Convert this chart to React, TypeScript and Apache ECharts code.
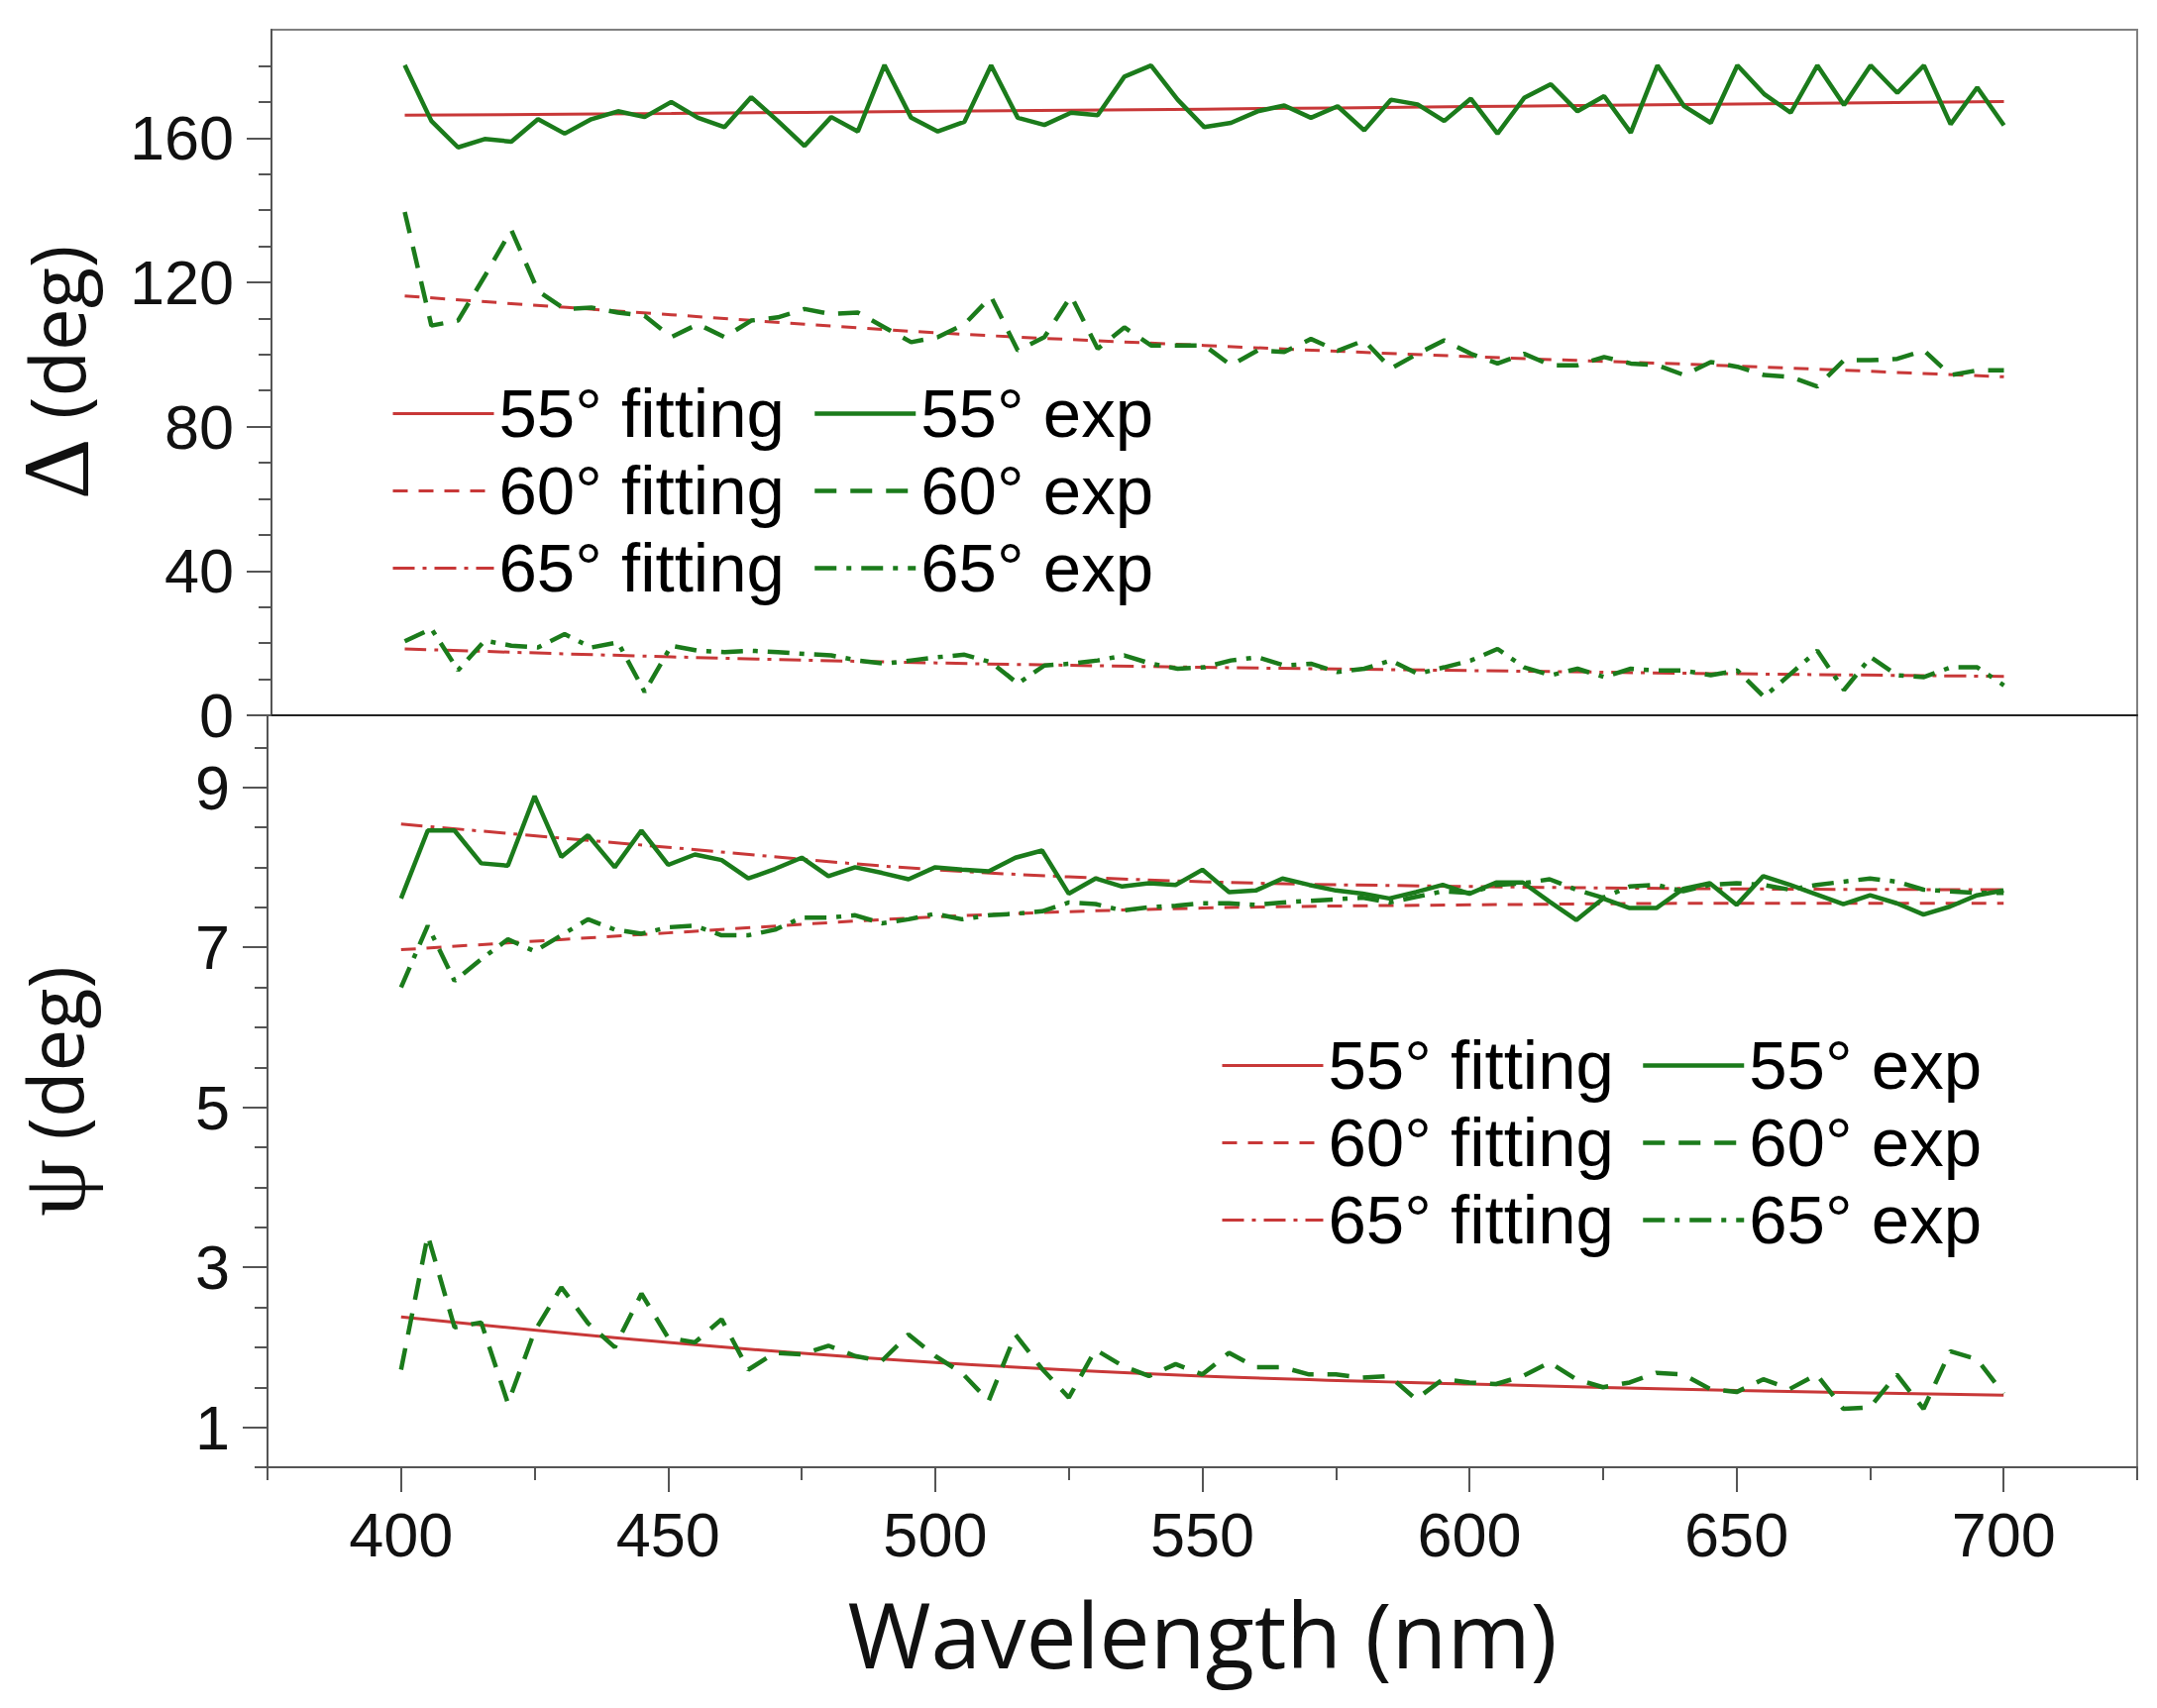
import React, { useEffect, useRef } from "react";
import * as echarts from "echarts";

// wavelength (nm) of experimental points
const WL = [400,405,410,415,420,425,430,435,440,445,450,455,460,465,470,475,480,485,490,495,500,505,510,515,520,525,530,535,540,545,550,555,560,565,570,575,580,585,590,595,600,605,610,615,620,625,630,635,640,645,650,655,660,665,670,675,680,685,690,695,700];
// wavelength of fitted curve samples
const FIT_WL = [400,450,500,550,600,650,700];

// Delta (deg) panel
const DELTA_55_EXP = [180.2,164.7,157.4,159.7,159.0,165.2,161.2,165.2,167.4,165.8,170.0,165.6,163.0,171.3,164.7,157.8,165.8,161.8,180.2,165.6,161.8,164.5,180.1,165.6,163.6,167.0,166.3,177.0,180.1,170.6,163.0,164.2,167.4,169.0,165.6,168.8,162.1,170.6,169.3,164.7,170.9,161.2,171.1,174.9,167.4,171.6,161.5,180.1,168.8,164.2,180.1,172.2,167.0,180.1,169.1,180.1,172.5,180.1,163.8,174.0,163.5];
const DELTA_60_EXP = [139.5,108.0,109.4,121.7,134.5,117.6,112.6,113.0,111.6,110.7,104.8,108.4,104.8,109.4,110.3,112.6,111.2,111.6,107.5,103.4,104.8,108.4,116.0,101.1,104.8,116.2,101.6,107.5,102.5,102.5,102.5,97.0,101.1,100.7,104.3,101.0,103.9,96.1,100.2,103.9,100.2,97.5,100.2,97.0,97.0,99.3,97.5,97.0,94.3,97.9,96.6,94.3,93.8,91.1,98.4,98.4,98.8,101.1,94.3,95.6,95.6];
const DELTA_65_EXP = [20.5,24.0,12.5,20.7,19.3,18.8,22.5,18.8,20.2,6.5,19.3,17.9,17.5,17.9,17.5,17.0,16.6,15.2,14.3,15.2,16.1,16.8,14.7,8.8,13.8,14.3,15.2,16.6,14.3,12.9,13.3,15.2,16.1,13.8,14.3,12.0,12.9,15.2,11.5,13.3,15.2,18.4,13.3,11.1,12.9,10.6,12.9,12.4,12.4,11.1,12.4,5.1,11.5,17.9,7.0,16.1,11.1,10.6,13.3,13.3,8.3];
const DELTA_55_FIT = [166.3,166.8,167.4,168.0,168.7,169.4,170.1];
const DELTA_60_FIT = [116.2,111.0,106.0,102.5,99.4,96.8,93.8];
const DELTA_65_FIT = [18.4,16.2,14.5,13.3,12.4,11.5,10.8];

// Psi (deg) panel
const PSI_55_EXP = [7.61,8.46,8.46,8.05,8.02,8.89,8.13,8.40,8.00,8.46,8.03,8.16,8.09,7.86,7.98,8.12,7.89,8.00,7.93,7.85,8.00,7.97,7.95,8.12,8.21,7.67,7.86,7.76,7.80,7.78,7.97,7.69,7.71,7.86,7.78,7.71,7.67,7.61,7.69,7.78,7.67,7.81,7.81,7.57,7.34,7.61,7.49,7.49,7.73,7.80,7.53,7.89,7.78,7.66,7.54,7.65,7.55,7.41,7.51,7.65,7.71];
const PSI_60_EXP = [1.72,3.40,2.25,2.31,1.30,2.20,2.75,2.30,2.00,2.67,2.12,2.06,2.35,1.72,1.93,1.91,2.02,1.89,1.83,2.16,1.89,1.68,1.33,2.16,1.73,1.37,1.97,1.77,1.64,1.79,1.66,1.93,1.75,1.75,1.66,1.66,1.62,1.64,1.35,1.60,1.56,1.54,1.64,1.81,1.60,1.50,1.56,1.68,1.66,1.48,1.44,1.60,1.48,1.66,1.23,1.25,1.66,1.23,1.95,1.85,1.42];
const PSI_65_EXP = [6.50,7.27,6.58,6.85,7.10,6.95,7.15,7.35,7.22,7.17,7.25,7.27,7.15,7.15,7.22,7.37,7.37,7.40,7.30,7.35,7.42,7.35,7.40,7.42,7.45,7.56,7.54,7.46,7.50,7.52,7.55,7.55,7.53,7.56,7.58,7.60,7.62,7.56,7.63,7.70,7.68,7.78,7.80,7.85,7.72,7.62,7.76,7.78,7.70,7.78,7.80,7.78,7.72,7.78,7.82,7.86,7.82,7.72,7.70,7.68,7.68];
const PSI_55_FIT = [2.38,2.06,1.81,1.64,1.54,1.46,1.40];
const PSI_60_FIT = [6.97,7.18,7.38,7.49,7.53,7.55,7.55];
const PSI_65_FIT = [8.54,8.25,7.97,7.82,7.76,7.73,7.72];

// axis ticks
const X_MAJOR = [400,450,500,550,600,650,700];
const X_MINOR = [375,425,475,525,575,625,675,725];
const DELTA_MAJOR = [0,40,80,120,160];
const DELTA_MINOR = [10,20,30,50,60,70,90,100,110,130,140,150,170,180];
const PSI_MAJOR = [1,3,5,7,9];
const PSI_MINOR = [0.5,1.5,2,2.5,3.5,4,4.5,5.5,6,6.5,7.5,8,8.5,9.5];

const FIT_NAMES = ["55° fitting","60° fitting","65° fitting"];
const EXP_NAMES = ["55° exp","60° exp","65° exp"];

const RED = "#c83838";
const GREEN = "#1b7b1b";
const TITLE_FONT = "Open Sans";
const TICK_FONT = "Liberation Sans";
const LEGEND_FONT = "Liberation Sans";

const pairs = (xs: number[], ys: number[]) => xs.map((x, i) => [x, ys[i]]);

export default function App() {
  const ref = useRef<HTMLDivElement>(null);
  useEffect(() => {
    if (!ref.current) return;
    const chart = echarts.init(ref.current, null, { renderer: "svg" });

    const gridL = 270, gridR = 20;
    const topT = 30, topH = 692;
    const botT = 722, botH = 759;

    const tickStyle = { color: "#555", width: 2 };
    const labelStyle = { fontFamily: TICK_FONT, fontSize: 63, color: "#111" };

    const yMajor = (gridIndex: number, min: number, max: number, major: number[], glyph: string, glyphSize: number) => ({
      type: "value", gridIndex, min, max, position: "left", offset: 0,
      axisLine: { show: true, lineStyle: { color: "#555", width: 2 } },
      axisTick: { show: true, customValues: major, length: 25, lineStyle: tickStyle },
      axisLabel: { show: true, customValues: major, margin: 38, ...labelStyle, lineHeight: 50, formatter: (v: number) => String(v) },
      splitLine: { show: false },
      name: `{g|${glyph}} (deg)`,
      nameLocation: "middle",
      nameGap: 170,
      nameTextStyle: {
        fontFamily: TITLE_FONT, fontSize: 76, color: "#111",
        rich: { g: { fontFamily: "Liberation Serif", fontSize: glyphSize, color: "#111" } },
      },
    });
    const yMinor = (gridIndex: number, min: number, max: number, minor: number[]) => ({
      type: "value", gridIndex, min, max, position: "left", offset: 0,
      axisLine: { show: false },
      axisTick: { show: true, customValues: minor, length: 13, lineStyle: tickStyle },
      axisLabel: { show: false },
      splitLine: { show: false },
    });

    const lineSeries = (name: string, xi: number, yi: number, xs: number[], ys: number[], color: string, width: number, type: any, smooth: boolean) => ({
      type: "line", name, xAxisIndex: xi, yAxisIndex: yi,
      data: pairs(xs, ys), showSymbol: false, symbol: "none",
      smooth: smooth ? 0.35 : false,
      lineStyle: { color, width, type },
      itemStyle: { color },
      silent: true,
    });

    const dashFit = [15, 11];
    const dotFit = [22, 8, 4, 8];
    const dashExp = [22, 14];
    const dotExp = [22, 10, 5, 10];
    const RW = 3, GW = 4.5;
    const FIT_TYPES: any[] = ["solid", dashFit, dotFit];
    const EXP_TYPES: any[] = ["solid", dashExp, dotExp];

    const legendBase = {
      orient: "vertical", itemWidth: 102, itemHeight: 40, itemGap: 9, padding: 0,
      selectedMode: false,
      itemStyle: { opacity: 0 },
      textStyle: { fontFamily: LEGEND_FONT, fontSize: 69, color: "#000" },
    };
    const fitLegendData = FIT_NAMES.map((name, i) => ({ name, lineStyle: { color: RED, width: RW, type: FIT_TYPES[i] } }));
    const expLegendData = EXP_NAMES.map((name, i) => ({ name, lineStyle: { color: GREEN, width: GW, type: EXP_TYPES[i] } }));

    const option: any = {
      animation: false,
      backgroundColor: "#fff",
      grid: [
        { left: gridL, right: gridR, top: topT, height: topH, show: true, borderColor: "#808080", borderWidth: 2, containLabel: false },
        { left: gridL, right: gridR, top: botT, height: botH, show: true, borderColor: "#808080", borderWidth: 2, containLabel: false },
      ],
      xAxis: [
        {
          type: "value", gridIndex: 0, min: 375, max: 725, position: "bottom",
          axisLine: { show: true, lineStyle: { color: "#222", width: 2 } },
          axisTick: { show: false }, axisLabel: { show: false }, splitLine: { show: false },
        },
        {
          type: "value", gridIndex: 1, min: 375, max: 725, position: "bottom", offset: 0,
          axisLine: { show: true, lineStyle: { color: "#555", width: 2 } },
          axisTick: { show: true, customValues: X_MAJOR, length: 25, lineStyle: tickStyle },
          axisLabel: { show: true, customValues: X_MAJOR, margin: 36, ...labelStyle, formatter: (v: number) => String(v) },
          splitLine: { show: false },
          name: "Wavelength (nm)", nameLocation: "middle", nameGap: 122,
          nameTextStyle: { fontFamily: TITLE_FONT, fontSize: 91, color: "#111" },
        },
        {
          type: "value", gridIndex: 1, min: 375, max: 725, position: "bottom", offset: 0,
          axisLine: { show: false },
          axisTick: { show: true, customValues: X_MINOR, length: 13, lineStyle: tickStyle },
          axisLabel: { show: false }, splitLine: { show: false },
        },
      ],
      yAxis: [
        yMajor(0, 0, 190, DELTA_MAJOR, "Δ", 96),
        yMinor(0, 0, 190, DELTA_MINOR),
        yMajor(1, 0.5, 9.9, PSI_MAJOR, "ψ", 92),
        yMinor(1, 0.5, 9.9, PSI_MINOR),
      ],
      legend: [
        { ...legendBase, left: 395, top: 383, data: fitLegendData },
        { ...legendBase, left: 820, top: 383, data: expLegendData },
        { ...legendBase, left: 1232, top: 1041, data: fitLegendData },
        { ...legendBase, left: 1656, top: 1041, data: expLegendData },
      ],
      series: [
        lineSeries("55° fitting", 0, 0, FIT_WL, DELTA_55_FIT, RED, RW, "solid", true),
        lineSeries("60° fitting", 0, 0, FIT_WL, DELTA_60_FIT, RED, RW, dashFit, true),
        lineSeries("65° fitting", 0, 0, FIT_WL, DELTA_65_FIT, RED, RW, dotFit, true),
        lineSeries("55° exp", 0, 0, WL, DELTA_55_EXP, GREEN, GW, "solid", false),
        lineSeries("60° exp", 0, 0, WL, DELTA_60_EXP, GREEN, GW, dashExp, false),
        lineSeries("65° exp", 0, 0, WL, DELTA_65_EXP, GREEN, GW, dotExp, false),
        lineSeries("55° fitting", 1, 2, FIT_WL, PSI_55_FIT, RED, RW, "solid", true),
        lineSeries("60° fitting", 1, 2, FIT_WL, PSI_60_FIT, RED, RW, dashFit, true),
        lineSeries("65° fitting", 1, 2, FIT_WL, PSI_65_FIT, RED, RW, dotFit, true),
        lineSeries("55° exp", 1, 2, WL, PSI_55_EXP, GREEN, GW, "solid", false),
        lineSeries("60° exp", 1, 2, WL, PSI_60_EXP, GREEN, GW, dashExp, false),
        lineSeries("65° exp", 1, 2, WL, PSI_65_EXP, GREEN, GW, dotExp, false),
      ],
    };
    chart.setOption(option);
    return () => chart.dispose();
  }, []);
  return (
    <div
      ref={ref}
      style={{ position: "absolute", left: 0, top: 0, width: 2177, height: 1724, background: "#fff" }}
    />
  );
}
